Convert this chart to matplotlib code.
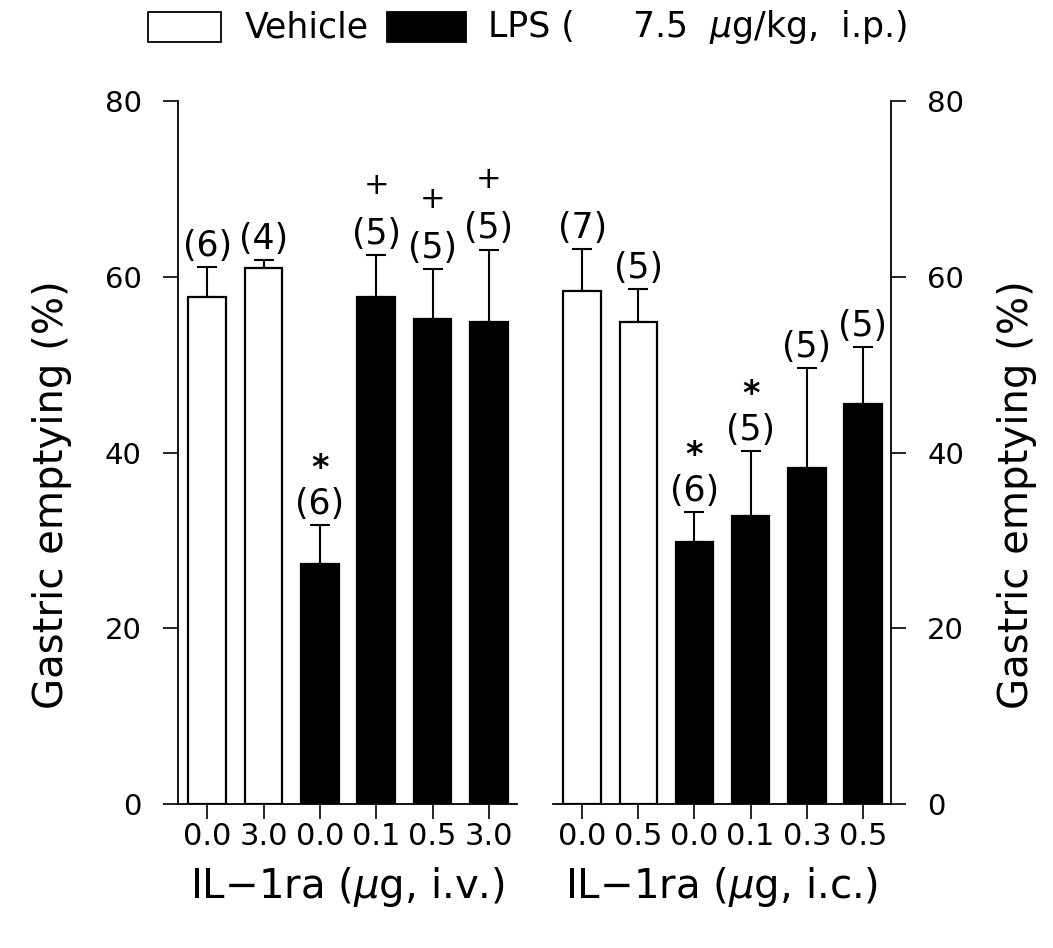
"""Gastric emptying after LPS, with IL-1ra given i.v. or i.c."""
import matplotlib
matplotlib.use("Agg")
import matplotlib.pyplot as plt
from matplotlib.patches import Rectangle

plt.rcParams['font.family'] = ['DejaVu Sans']
plt.rcParams['mathtext.fontset'] = 'dejavusans'

# left panel: IL-1ra i.v.
iv_doses = ['0.0', '3.0', '0.0', '0.1', '0.5', '3.0']
iv_group = ['vehicle', 'vehicle', 'lps', 'lps', 'lps', 'lps']
iv_mean = [57.7, 61.0, 27.3, 57.7, 55.2, 54.9]
iv_err_top = [61.1, 61.9, 31.7, 62.5, 60.9, 63.1]
iv_n = [6, 4, 6, 5, 5, 5]
iv_sig = ['', '', '*', '+', '+', '+']

# right panel: IL-1ra i.c.
ic_doses = ['0.0', '0.5', '0.0', '0.1', '0.3', '0.5']
ic_group = ['vehicle', 'vehicle', 'lps', 'lps', 'lps', 'lps']
ic_mean = [58.4, 54.8, 29.8, 32.8, 38.2, 45.5]
ic_err_top = [63.2, 58.6, 33.2, 40.2, 49.6, 52.0]
ic_n = [7, 5, 6, 5, 5, 5]
ic_sig = ['', '', '*', '*', '', '']

y_ticks = [0, 20, 40, 60, 80]
colors = {'vehicle': 'white', 'lps': 'black'}

W, H = 1053, 948
fig = plt.figure(figsize=(W / 100, H / 100), dpi=100)


def px(x0, y0, x1, y1):
    # pixel box (top-left origin) -> figure fraction rect
    return [x0 / W, 1 - y1 / H, (x1 - x0) / W, (y1 - y0) / H]


ax1 = fig.add_axes(px(178, 101, 517, 804))
ax2 = fig.add_axes(px(553, 101, 891, 804))


def draw_panel(ax, doses, group, mean, err_top, n, sig, side):
    x = list(range(len(doses)))
    ax.bar(x, mean, width=0.67, color=[colors[g] for g in group],
           edgecolor='black', linewidth=1.6, zorder=2)
    err = [e - m for e, m in zip(err_top, mean)]
    ax.errorbar(x, mean, yerr=[[0] * len(err), err], fmt='none',
                ecolor='black', elinewidth=1.5, capsize=7, capthick=1.5,
                zorder=1)
    for xi, top, ni, s in zip(x, err_top, n, sig):
        ax.annotate(f'({ni})', (xi, top), xytext=(0, 8),
                    textcoords='offset points', ha='center', va='baseline',
                    fontsize=25)
        if s == '*':
            ax.annotate('*', (xi, top), xytext=(0, 34),
                        textcoords='offset points', ha='center',
                        va='baseline', fontsize=24, fontweight='bold')
        elif s == '+':
            ax.annotate('+', (xi, top), xytext=(0, 44),
                        textcoords='offset points', ha='center',
                        va='baseline', fontsize=22)
    ax.set_xlim(-0.52, len(doses) - 0.5)
    ax.set_ylim(0, 80)
    ax.set_xticks(x)
    ax.set_xticklabels(doses, fontsize=22)
    ax.set_yticks(y_ticks)
    ax.tick_params(axis='x', length=11, width=1.2, pad=2)
    ax.tick_params(axis='y', length=11, width=1.2, labelsize=21, pad=15)
    for sp in ['top', 'left', 'right', 'bottom']:
        ax.spines[sp].set_linewidth(1.3)
    ax.spines['top'].set_visible(False)
    if side == 'left':
        ax.spines['right'].set_visible(False)
    else:
        ax.spines['left'].set_visible(False)
        ax.yaxis.tick_right()
        ax.yaxis.set_label_position('right')
    ax.set_ylabel('Gastric emptying (%)', fontsize=29,
                  rotation=90, labelpad=24)
    ax.yaxis.label.set_y(0.44)


draw_panel(ax1, iv_doses, iv_group, iv_mean, iv_err_top, iv_n, iv_sig, 'left')
draw_panel(ax2, ic_doses, ic_group, ic_mean, ic_err_top, ic_n, ic_sig, 'right')

ax1.set_xlabel(r'IL$-$1ra ($\mu$g, i.v.)', fontsize=29, labelpad=10)
ax2.set_xlabel(r'IL$-$1ra ($\mu$g, i.c.)', fontsize=29, labelpad=10)

# key at the top
fig.add_artist(Rectangle((148 / W, 1 - 42 / H), 73 / W, 30 / H,
                         transform=fig.transFigure, facecolor='white',
                         edgecolor='black', linewidth=1.3))
fig.text(245 / W, 1 - 27 / H, 'Vehicle', fontsize=25, va='center')
fig.add_artist(Rectangle((387 / W, 1 - 42 / H), 79 / W, 30 / H,
                         transform=fig.transFigure, facecolor='black',
                         edgecolor='black', linewidth=1.3))
fig.text(488 / W, 1 - 27 / H, 'LPS (', fontsize=25, va='center')
fig.text(632 / W, 1 - 27 / H, r'7.5  $\mu$g/kg,  i.p.)', fontsize=25,
         va='center')

fig.savefig('out.png', dpi=100)
